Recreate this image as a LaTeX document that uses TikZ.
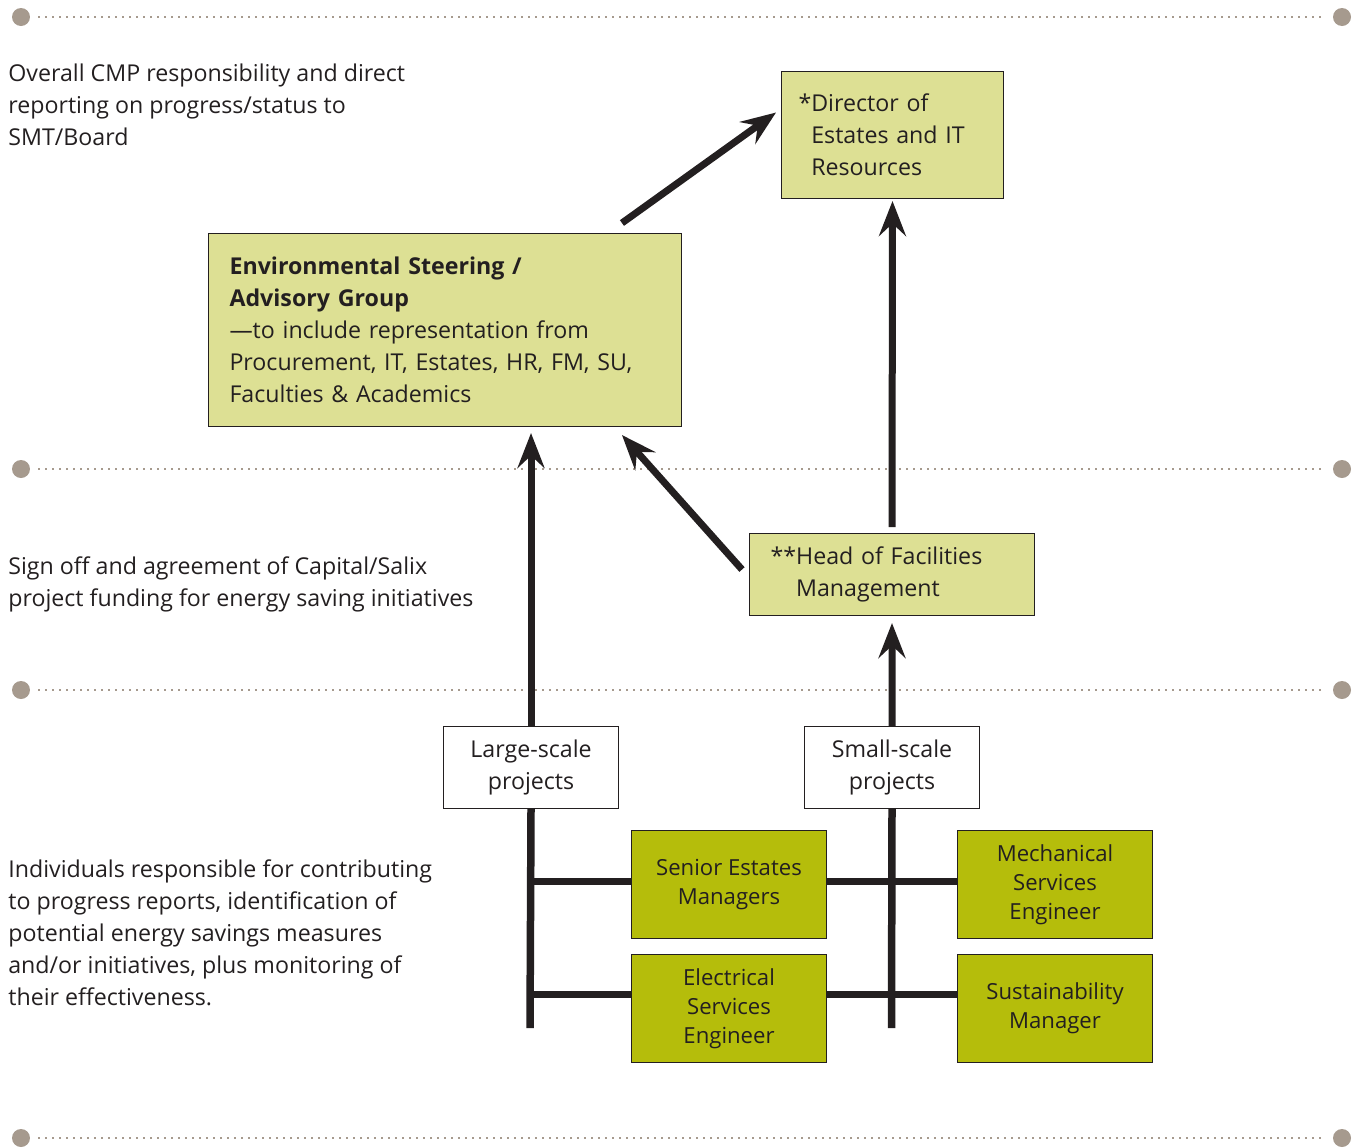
\documentclass[tikz,border=0pt]{standalone}
\usepackage{fontspec}
\setmainfont{Open Sans}
\usetikzlibrary{arrows.meta,positioning,calc}
\definecolor{esglight}{HTML}{DDE094}
\definecolor{esgdark}{HTML}{B5BD0B}
\definecolor{dotgrey}{HTML}{A69A8E}
\definecolor{ink}{HTML}{231F20}

\begin{document}
\begin{tikzpicture}[x=0.02cm, y=-0.02cm,
    every node/.style={font=\fontsize{13.2}{18.2}\selectfont, text=ink},
    dot/.style={circle, fill=dotgrey, inner sep=0pt, minimum size=0.36cm},
    sep/.style={dotgrey, line width=0.04cm, dash pattern=on 0.04cm off 0.1cm, shorten <=0.16cm, shorten >=0.16cm},
    note/.style={anchor=north west, align=left, inner sep=0pt},
    greenbox/.style={draw=ink, line width=0.6pt, fill=esglight, align=left, anchor=north west, inner xsep=0.42cm},
    plainbox/.style={draw=ink, line width=0.6pt, fill=white, align=center, anchor=north west, minimum width=3.5cm, minimum height=1.64cm},
    olivebox/.style={draw=ink, line width=0.6pt, fill=esgdark, align=center, anchor=north west, minimum width=3.9cm, minimum height=2.16cm, font=\fontsize{12.6}{16.5}\selectfont},
    arr/.style={draw=ink, line width=0.14cm, -{Stealth[length=0.7cm, width=0.54cm, inset=0.25cm]}},
    trunk/.style={draw=ink, line width=0.15cm}]
    \useasboundingbox (0,0) rectangle (1356,1147);

    \foreach \y in {17, 469, 690, 1138} {
        \node[dot] (l\y) at (21,\y) {};
        \node[dot] (r\y) at (1342,\y) {};
        \draw[sep] (l\y) -- (r\y);
    }

    \node[note] (topnote) at (8,64) {Overall CMP responsibility and direct\\reporting on progress/status to\\SMT/Board};
    \node[note] (midnote) at (8,556) {Sign off and agreement of Capital/Salix\\project funding for energy saving initiatives};
    \node[note] (lownote) at (8,859) {Individuals responsible for contributing\\to progress reports, identification of\\potential energy savings measures\\and/or initiatives, plus monitoring of\\their effectiveness.};

    \node[greenbox, inner xsep=0.34cm, minimum width=4.44cm, minimum height=2.54cm, text width=3.76cm] (dir) at (781,71) {*Director of\\\hphantom{*}Estates and IT\\\hphantom{*}Resources};
    \node[greenbox, minimum width=9.46cm, minimum height=3.86cm, text width=8.62cm] (esg) at (208,233) {\textbf{Environmental Steering /}\\\textbf{Advisory Group}\\---to include representation from\\Procurement, IT, Estates, HR, FM, SU,\\Faculties \& Academics};
    \node[greenbox, minimum width=5.7cm, minimum height=1.64cm, text width=4.86cm] (hfm) at (749,533) {**Head of Facilities\\\hphantom{**}Management};

    \node[plainbox] (large) at (443,726) {Large-scale\\projects};
    \node[plainbox] (small) at (804,726) {Small-scale\\projects};

    \node[olivebox] (sem) at (631,830) {Senior Estates\\Managers};
    \node[olivebox] (ese) at (631,954) {Electrical\\Services\\Engineer};
    \node[olivebox] (mse) at (957,830) {Mechanical\\Services\\Engineer};
    \node[olivebox] (sum) at (957,954) {Sustainability\\Manager};

    \coordinate (lend) at (530,1028);
    \coordinate (send) at (891.5,1028);
    \coordinate (upper) at ($(sem.west)+(0,-3)$);
    \coordinate (lower) at ($(ese.west)+(0,-14)$);

    \draw[trunk] (large.south) -- (lend);
    \draw[trunk] (small.south) -- (send);
    \draw[trunk] (large.south |- upper) -- (upper);
    \draw[trunk] (sem.east |- upper) -- (mse.west |- upper);
    \draw[trunk] (large.south |- lower) -- (lower);
    \draw[trunk] (ese.east |- lower) -- (sum.west |- lower);

    \draw[arr, shorten >=0.14cm] (small.north) -- (hfm.south);
    \draw[arr, shorten >=0.12cm] (large.north) -- (large.north |- esg.south);
    \draw[arr] ($(hfm.west)+(-7,-5)$) -- ($(esg.south east)+(-60,8)$);
    \draw[arr, shorten <=0.12cm, shorten >=0.04cm] (hfm.north) -- (dir.south);
    \draw[arr] ($(esg.north east)+(-60,-10)$) -- ($(dir.west)+(-5,-22.5)$);
\end{tikzpicture}
\end{document}
